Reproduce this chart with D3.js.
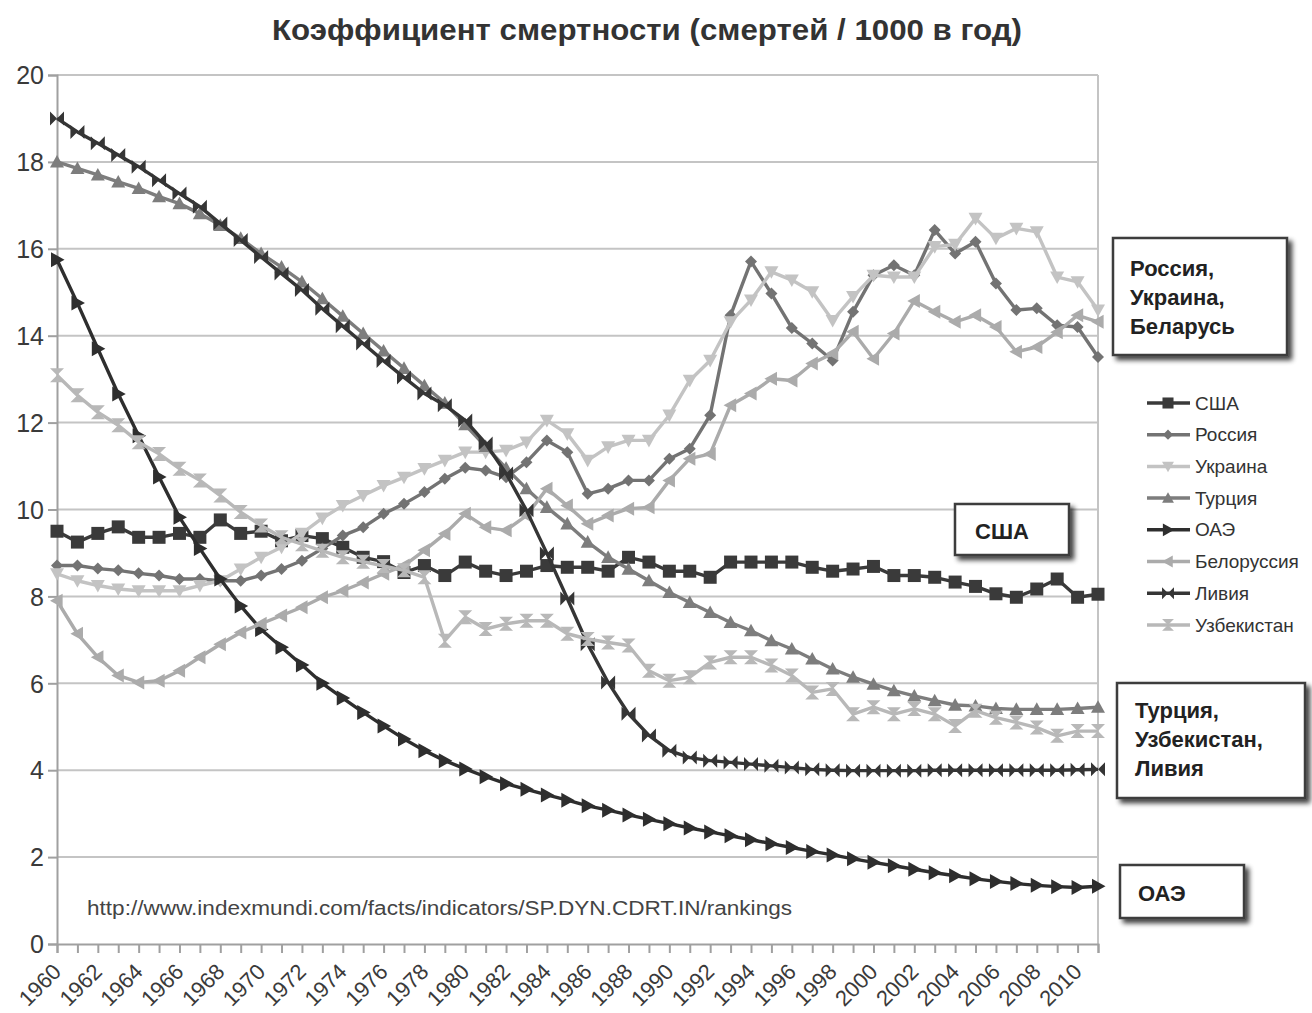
<!DOCTYPE html>
<html><head><meta charset="utf-8">
<script src="https://cdn.jsdelivr.net/npm/d3@7"></script>
<style>
body{margin:0;background:#fff;}
svg{display:block;}
</style></head>
<body>
<svg id="chart" width="1312" height="1013"></svg>
<script>
const years = d3.range(1960, 2012);
const seriesNames = ["США","Россия","Украина","Турция","ОАЭ","Белоруссия","Ливия","Узбекистан"];
const usa = [9.5,9.25,9.45,9.6,9.36,9.36,9.45,9.36,9.76,9.45, 9.5,9.28,9.4,9.33,9.13,8.9,8.8,8.55,8.71,8.48, 8.79,8.58,8.48,8.58,8.71,8.67,8.67,8.58,8.9,8.79, 8.58,8.58,8.44,8.79,8.79,8.79,8.79,8.67,8.58,8.63, 8.69,8.48,8.48,8.44,8.33,8.23,8.06,7.98,8.17,8.4, 7.98,8.05];
const russia = [8.71,8.71,8.64,8.6,8.53,8.48,8.4,8.4,8.36,8.36, 8.48,8.63,8.82,9.1,9.4,9.59,9.9,10.13,10.4,10.71, 10.96,10.9,10.74,11.09,11.59,11.32,10.36,10.48,10.67,10.67, 11.17,11.4,12.17,14.47,15.71,14.97,14.18,13.82,13.43,14.55, 15.39,15.62,15.39,16.43,15.89,16.16,15.2,14.59,14.63,14.24, 14.2,13.51];
const ukraine = [8.52,8.36,8.25,8.17,8.13,8.13,8.13,8.25,8.36,8.63, 8.9,9.13,9.45,9.8,10.09,10.32,10.55,10.74,10.94,11.13, 11.32,11.32,11.36,11.55,12.05,11.74,11.13,11.44,11.59,11.59, 12.17,12.97,13.43,14.32,14.82,15.47,15.28,15.01,14.35,14.9, 15.39,15.35,15.35,16.05,16.1,16.7,16.24,16.47,16.39,15.35, 15.24,14.59];
const turkey = [18.0,17.85,17.7,17.54,17.39,17.2,17.04,16.81,16.54,16.24, 15.89,15.58,15.24,14.85,14.45,14.05,13.65,13.25,12.85,12.45, 11.95,11.45,10.95,10.48,10.05,9.67,9.25,8.9,8.63,8.36, 8.09,7.86,7.63,7.4,7.21,6.98,6.79,6.56,6.33,6.14, 5.98,5.83,5.71,5.6,5.5,5.48,5.42,5.4,5.4,5.4, 5.42,5.45];
const uae = [15.75,14.75,13.7,12.66,11.7,10.75,9.82,9.1,8.4,7.78, 7.24,6.83,6.42,6.0,5.66,5.33,5.02,4.72,4.45,4.22, 4.03,3.85,3.69,3.56,3.43,3.31,3.18,3.08,2.97,2.87, 2.77,2.67,2.58,2.49,2.4,2.31,2.22,2.13,2.05,1.96, 1.88,1.8,1.72,1.64,1.57,1.5,1.44,1.39,1.35,1.32, 1.3,1.33];
const belarus = [7.9,7.14,6.6,6.18,6.02,6.06,6.29,6.6,6.9,7.17, 7.37,7.56,7.75,7.98,8.13,8.32,8.52,8.71,9.06,9.44, 9.9,9.59,9.52,9.86,10.48,10.09,9.67,9.86,10.02,10.05, 10.67,11.17,11.28,12.4,12.67,13.01,12.97,13.36,13.59,14.09, 13.47,14.05,14.8,14.55,14.32,14.47,14.2,13.63,13.74,14.08, 14.47,14.32];
const libya = [19.0,18.69,18.43,18.16,17.89,17.58,17.27,16.97,16.58,16.2, 15.81,15.43,15.05,14.62,14.22,13.82,13.42,13.04,12.67,12.4, 12.05,11.52,10.83,9.98,8.99,7.95,6.9,6.02,5.3,4.8, 4.45,4.29,4.22,4.18,4.14,4.1,4.06,4.02,4.0,3.99, 3.99,3.99,3.99,4.0,4.0,4.0,4.0,4.0,4.0,4.0, 4.01,4.02];
const uzbekistan = [13.09,12.63,12.24,11.94,11.55,11.28,10.94,10.67,10.32,9.94, 9.63,9.36,9.2,9.05,8.9,8.8,8.7,8.6,8.44,6.98, 7.52,7.25,7.37,7.44,7.44,7.14,7.02,6.94,6.87,6.29, 6.06,6.14,6.48,6.6,6.6,6.41,6.18,5.79,5.87,5.29, 5.45,5.29,5.41,5.29,5.02,5.37,5.21,5.1,4.98,4.79, 4.9,4.9];
const yTicks = [0,2,4,6,8,10,12,14,16,18,20];
const xLabels = d3.range(1960, 2011, 2);
const title = "Коэффициент смертности (смертей / 1000 в год)";
const sourceText = "http://www.indexmundi.com/facts/indicators/SP.DYN.CDRT.IN/rankings";
const annotations = [
  {lines:["Россия,","Украина,","Беларусь"]},
  {lines:["США"]},
  {lines:["Турция,","Узбекистан,","Ливия"]},
  {lines:["ОАЭ"]}
];

const values = [usa, russia, ukraine, turkey, uae, belarus, libya, uzbekistan];
const colors = ["#3a3a3a","#737373","#c3c3c3","#7d7d7d","#2e2e2e","#ababab","#353535","#b8b8b8"];
const markers = ["square","diamond","down","up","right","left","bowtie","hourglass"];

const svg = d3.select("#chart");
const L = 57, R = 1098, T = 75, B = 944;
const x = d3.scaleLinear().domain([1960, 2011]).range([L, R]);
const y = d3.scaleLinear().domain([0, 20]).range([B, T]);

// title
svg.append("text").attr("x", 647).attr("y", 40).attr("text-anchor","middle")
  .attr("font-family","Liberation Sans, Arial, sans-serif").attr("font-weight","bold")
  .attr("font-size", 29).attr("fill","#333")
  .attr("textLength", 750).attr("lengthAdjust","spacingAndGlyphs").text(title);

// grid
svg.append("g").selectAll("line").data(yTicks.filter(d=>d>0)).join("line")
  .attr("x1", L).attr("x2", R).attr("y1", d=>y(d)).attr("y2", d=>y(d))
  .attr("stroke","#c4c4c4").attr("stroke-width",2);
// right border
svg.append("line").attr("x1",R).attr("x2",R).attr("y1",T).attr("y2",B).attr("stroke","#c4c4c4").attr("stroke-width",2);

// y axis
const yAxis = svg.append("g").attr("transform",`translate(${L},0)`)
  .call(d3.axisLeft(y).tickValues(yTicks).tickSize(9).tickPadding(4));
yAxis.select(".domain").attr("stroke","#a0a0a0").attr("stroke-width",2);
yAxis.selectAll(".tick line").attr("stroke","#a0a0a0").attr("stroke-width",2);
yAxis.selectAll("text").attr("font-family","Liberation Sans, Arial, sans-serif").attr("font-size",25).attr("fill","#3a3a3a").attr("dy","0.35em");

// x axis
const xAxis = svg.append("g").attr("transform",`translate(0,${B})`)
  .call(d3.axisBottom(x).tickValues(years).tickSize(9).tickFormat(d => xLabels.includes(d) ? String(d) : ""));
xAxis.select(".domain").attr("stroke","#a0a0a0").attr("stroke-width",2);
xAxis.selectAll(".tick line").attr("stroke","#a0a0a0").attr("stroke-width",2);
xAxis.selectAll("text").attr("font-family","Liberation Sans, Arial, sans-serif").attr("font-size",22).attr("fill","#3a3a3a")
  .attr("text-anchor","end").attr("dy",0).attr("y",0)
  .attr("transform","translate(5,29) rotate(-45)");

// source
svg.append("text").attr("x", 87).attr("y", 915).attr("font-family","Liberation Sans, Arial, sans-serif")
  .attr("font-size",20).attr("fill","#444").attr("textLength",705).attr("lengthAdjust","spacingAndGlyphs").text(sourceText);

// markers
function markerPath(type, s) {
  switch(type) {
    case "square": return `M${-s},${-s}H${s}V${s}H${-s}Z`;
    case "diamond": return `M0,${-s}L${s},0L0,${s}L${-s},0Z`;
    case "up": return `M0,${-s}L${s},${s*0.8}L${-s},${s*0.8}Z`;
    case "down": return `M0,${s}L${s},${-s*0.8}L${-s},${-s*0.8}Z`;
    case "right": return `M${s},0L${-s*0.8},${s}L${-s*0.8},${-s}Z`;
    case "left": return `M${-s},0L${s*0.8},${s}L${s*0.8},${-s}Z`;
    case "bowtie": return `M${-s},${-s}L0,0L${-s},${s}ZM${s},${-s}L0,0L${s},${s}Z`;
    case "hourglass": return `M${-s},${-s}L${s},${-s}L0,0ZM${-s},${s}L${s},${s}L0,0Z`;
  }
}
const markerSize = {square:6.5, diamond:6, up:7, down:7, right:7.5, left:7, bowtie:7, hourglass:7};

const line = d3.line().x((d,i)=>x(years[i])).y(d=>y(d));
const plot = svg.append("g");
values.forEach((vals, si) => {
  const g = plot.append("g");
  g.append("path").attr("d", line(vals)).attr("fill","none").attr("stroke",colors[si]).attr("stroke-width",3.4).attr("stroke-linejoin","round");
  g.selectAll("path.m").data(vals).join("path").attr("class","m")
    .attr("d", markerPath(markers[si], markerSize[markers[si]]))
    .attr("transform",(d,i)=>`translate(${x(years[i])},${y(d)})`)
    .attr("fill",colors[si]);
});

// legend
const leg = svg.append("g");
seriesNames.forEach((name, i) => {
  const cy = 403 + i*31.7;
  leg.append("line").attr("x1",1147).attr("x2",1190).attr("y1",cy).attr("y2",cy).attr("stroke",colors[i]).attr("stroke-width",3.5);
  leg.append("path").attr("d", markerPath(markers[i], markerSize[markers[i]]*0.85)).attr("transform",`translate(1168,${cy})`).attr("fill",colors[i]);
  leg.append("text").attr("x",1195).attr("y",cy).attr("dy","0.35em").attr("font-family","Liberation Sans, Arial, sans-serif")
    .attr("font-size",19).attr("fill","#333").text(name);
});

// annotation boxes
const defs = svg.append("defs");
const f = defs.append("filter").attr("id","shadow").attr("x","-20%").attr("y","-20%").attr("width","150%").attr("height","150%");
f.append("feGaussianBlur").attr("in","SourceAlpha").attr("stdDeviation",2.5).attr("result","b");
f.append("feOffset").attr("in","b").attr("dx",4).attr("dy",4).attr("result","o");
f.append("feComponentTransfer").attr("in","o").attr("result","o2").append("feFuncA").attr("type","linear").attr("slope",0.75);
const fm = f.append("feMerge"); fm.append("feMergeNode").attr("in","o2"); fm.append("feMergeNode").attr("in","SourceGraphic");

const boxGeo = [
  {x:1113, y:238, w:174, h:117, tx:1130, ty:268},
  {x:955, y:504, w:114, h:51, tx:975, ty:531},
  {x:1117, y:683, w:188, h:115, tx:1135, ty:710},
  {x:1120, y:865, w:124, h:53, tx:1138, ty:893}
];
annotations.forEach((a, i) => {
  const b = boxGeo[i];
  svg.append("rect").attr("x",b.x).attr("y",b.y).attr("width",b.w).attr("height",b.h)
    .attr("fill","#fff").attr("stroke","#3c3c3c").attr("stroke-width",2.5).attr("filter","url(#shadow)");
  a.lines.forEach((t, j) => {
    svg.append("text").attr("x",b.tx).attr("y",b.ty + j*29).attr("dy","0.35em")
      .attr("font-family","Liberation Sans, Arial, sans-serif").attr("font-weight","bold").attr("font-size",22).attr("fill","#222").text(t);
  });
});
</script>
</body></html>
